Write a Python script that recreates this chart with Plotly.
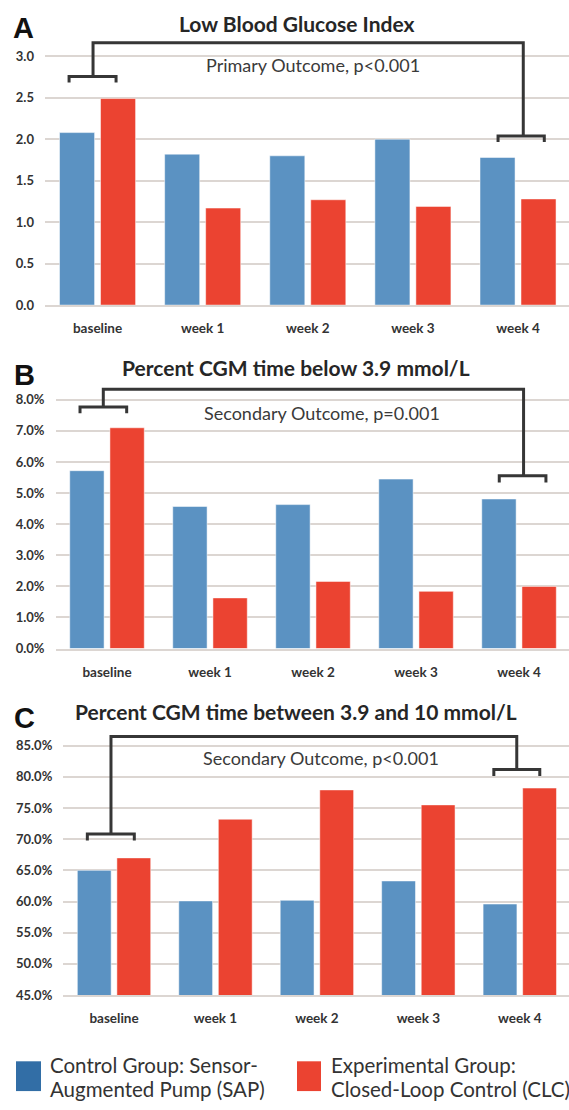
import plotly.graph_objects as go

# ---------------- data ----------------
categories = ["baseline", "week 1", "week 2", "week 3", "week 4"]
group_names = ["Control Group: Sensor-Augmented Pump (SAP)",
               "Experimental Group: Closed-Loop Control (CLC)"]

lbgi_sap = [2.08, 1.82, 1.80, 2.00, 1.78]
lbgi_clc = [2.49, 1.17, 1.27, 1.19, 1.28]

below39_sap = [5.72, 4.57, 4.63, 5.45, 4.81]
below39_clc = [7.10, 1.63, 2.16, 1.84, 2.00]

inrange_sap = [65.0, 60.1, 60.2, 63.3, 59.6]
inrange_clc = [67.0, 73.2, 77.9, 75.5, 78.2]

lbgi_ticks = [0.0, 0.5, 1.0, 1.5, 2.0, 2.5, 3.0]
below39_ticks = [0, 1, 2, 3, 4, 5, 6, 7, 8]
inrange_ticks = [45, 50, 55, 60, 65, 70, 75, 80, 85]

titles = ["Low Blood Glucose Index",
          "Percent CGM time below 3.9 mmol/L",
          "Percent CGM time between 3.9 and 10 mmol/L"]
panel_letters = ["A", "B", "C"]
outcome_texts = ["Primary Outcome, p&lt;0.001",
                 "Secondary Outcome, p=0.001",
                 "Secondary Outcome, p&lt;0.001"]

# ---------------- style ----------------
W, H = 569, 1110
BLUE = "#5B92C2"
RED = "#EB4331"
LEG_BLUE = "#326EA6"
GRID = "#DCD6D2"
TXT = "#333333"
BRK = "#363636"
FONT = "Lato"

def px(x):
    return x / W

def py(y):
    return 1 - y / H

fig = go.Figure()

panels = [
    dict(sap=lbgi_sap, clc=lbgi_clc, xdom=(45, W), ydom=(307.3, 35.8),
         yrange=[0, 3.25], ticks=lbgi_ticks, suffix=""),
    dict(sap=below39_sap, clc=below39_clc, xdom=(55.5, W), ydom=(653.3, 388.6),
         yrange=[0, 8.45], ticks=below39_ticks, suffix="%"),
    dict(sap=inrange_sap, clc=inrange_clc, xdom=(63.3, W), ydom=(1002.3, 738.5),
         yrange=[45, 87.0], ticks=inrange_ticks, suffix="%"),
]

for i, p in enumerate(panels):
    sfx = "" if i == 0 else str(i + 1)
    xa, ya = "x" + sfx, "y" + sfx
    fig.add_trace(go.Bar(x=categories, y=p["sap"], name=group_names[0], xaxis=xa, yaxis=ya,
                         marker=dict(color=BLUE, line=dict(color="rgba(255,255,255,0.5)", width=1)),
                         showlegend=False))
    fig.add_trace(go.Bar(x=categories, y=p["clc"], name=group_names[1], xaxis=xa, yaxis=ya,
                         marker=dict(color=RED, line=dict(color="rgba(255,255,255,0.5)", width=1)),
                         showlegend=False))
    fig.update_layout(**{
        "xaxis" + sfx: dict(domain=[px(p["xdom"][0]), px(p["xdom"][1])], anchor=ya,
                            type="category", range=[-0.5, 4.485], showgrid=False, zeroline=False,
                            showline=True, linecolor=GRID, linewidth=1.5, ticks="",
                            ticklabelstandoff=10,
                            tickfont=dict(family=FONT, size=13.5, color=TXT, weight="bold")),
        "yaxis" + sfx: dict(domain=[py(p["ydom"][0]), py(p["ydom"][1])], anchor=xa,
                            range=p["yrange"], tickvals=p["ticks"],
                            ticktext=[f"{v:.1f}{p['suffix']}" for v in p["ticks"]],
                            showgrid=True, gridcolor=GRID, gridwidth=1.5,
                            zeroline=False, showline=False, ticks="", ticklabelstandoff=10,
                            tickfont=dict(family=FONT, size=13, color=TXT, weight="bold")),
    })

# ---------------- brackets (category index / axis units) ----------------
brackets = [
    dict(l=(-0.271, 0.176, -0.043), yl=2.757, tl=2.685, top=3.164,
         r=(3.81, 4.25, 4.05), yr=2.039, tr=1.967),
    dict(l=(-0.262, 0.191, -0.036), yl=7.77, tl=7.57, top=8.34,
         r=(3.808, 4.261, 4.044), yr=5.56, tr=5.34),
    dict(l=(-0.263, 0.200, -0.030), yl=70.84, tl=69.78, top=86.45,
         r=(3.744, 4.197, 3.970), yr=81.19, tr=80.13),
]
for i, b in enumerate(brackets):
    sfx = "" if i == 0 else str(i + 1)
    l0, l1, ls = b["l"]
    r0, r1, rs = b["r"]
    path = (f"M {l0},{b['tl']} L {l0},{b['yl']} L {l1},{b['yl']} L {l1},{b['tl']} "
            f"M {ls},{b['yl']} L {ls},{b['top']} L {rs},{b['top']} L {rs},{b['yr']} "
            f"M {r0},{b['tr']} L {r0},{b['yr']} L {r1},{b['yr']} L {r1},{b['tr']}")
    fig.add_shape(type="path", path=path, xref="x" + sfx, yref="y" + sfx,
                  line=dict(color=BRK, width=3))

# ---------------- titles / labels ----------------
title_pos = [(296, 24), (296, 370), (296, 717)]
letter_pos = [(11, 28), (12, 378), (12, 723)]
outcome_pos = [(313, 65), (322, 416), (321, 764)]
for i in range(3):
    fig.add_annotation(text=titles[i], x=px(title_pos[i][0]), y=py(title_pos[i][1]),
                       xref="paper", yref="paper", xanchor="center", yanchor="middle",
                       showarrow=False,
                       font=dict(family=FONT, size=21, color="#262626", weight="bold"))
    fig.add_annotation(text=panel_letters[i], x=px(letter_pos[i][0]), y=py(letter_pos[i][1]),
                       xref="paper", yref="paper", xanchor="left", yanchor="middle",
                       showarrow=False,
                       font=dict(family="Liberation Sans", size=29, color="#111111", weight="bold"))
    fig.add_annotation(text=outcome_texts[i], x=px(outcome_pos[i][0]), y=py(outcome_pos[i][1]),
                       xref="paper", yref="paper", xanchor="center", yanchor="middle",
                       showarrow=False,
                       font=dict(family=FONT, size=18, color="#3a3a3a"))

# ---------------- legend (drawn) ----------------
legend_items = [
    dict(color=LEG_BLUE, box=(16, 41), tx=48, lines=["Control Group: Sensor-", "Augmented Pump (SAP)"]),
    dict(color=RED, box=(297, 321), tx=329, lines=["Experimental Group:", "Closed-Loop Control (CLC)"]),
]
for it in legend_items:
    fig.add_shape(type="rect", xref="paper", yref="paper",
                  x0=px(it["box"][0]), x1=px(it["box"][1]), y0=py(1099), y1=py(1069),
                  fillcolor=it["color"], line=dict(width=0))
    for j, line in enumerate(it["lines"]):
        fig.add_annotation(text=line, x=px(it["tx"]), y=py(1073 + 24 * j),
                           xref="paper", yref="paper", xanchor="left", yanchor="middle",
                           showarrow=False, font=dict(family=FONT, size=20.5, color="#333333"))

fig.update_layout(width=W, height=H, margin=dict(l=0, r=0, t=0, b=0),
                  paper_bgcolor="white", plot_bgcolor="white",
                  barmode="group", bargap=0.22, bargroupgap=0.145, showlegend=False)

fig.write_html("out.html",
               config={"displayModeBar": False},
               post_script="document.body.style.margin='0';document.body.style.overflow='hidden';")
